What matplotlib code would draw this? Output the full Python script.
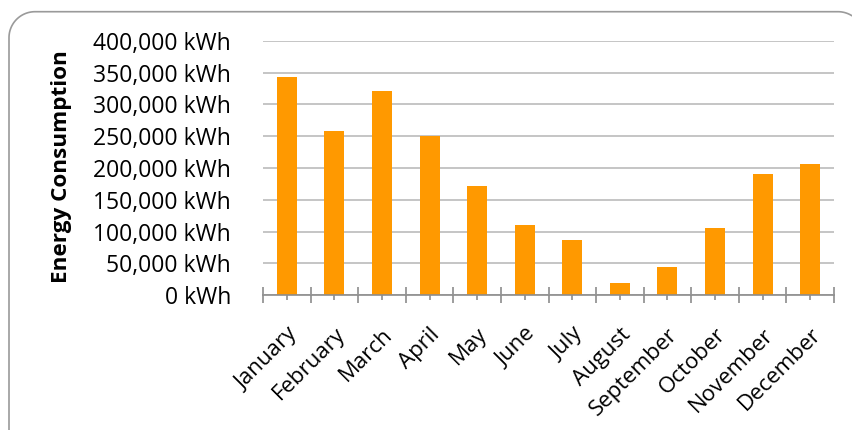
import matplotlib
matplotlib.use("Agg")
import matplotlib.pyplot as plt
from matplotlib.lines import Line2D
from matplotlib.ticker import FuncFormatter, MultipleLocator, FixedLocator
import numpy as np

months = ["January", "February", "March", "April", "May", "June", "July",
          "August", "September", "October", "November", "December"]
consumption = [343000, 258000, 321000, 250000, 172000, 110000, 87000,
               19000, 44500, 106000, 191000, 206000]
y_label = "Energy Consumption"

plt.rcParams['font.family'] = ['Open Sans', 'DejaVu Sans']

W, H = 852, 430
fig = plt.figure(figsize=(W / 100, H / 100), dpi=100)
fig.patch.set_facecolor('white')

# rounded chart-area border, kept strictly inside the image
r = 26.0
top, left = 11.7, 9.0
cl = (left + r, top + r)
cr = (838.0, top + r)
t1 = np.linspace(np.pi, 1.5 * np.pi, 30)
t_end = 2.0 * np.pi - np.arccos((W - 0.5 - cr[0]) / r)
t2 = np.linspace(1.5 * np.pi, t_end, 20)
px = np.concatenate([[left], cl[0] + r * np.cos(t1), cr[0] + r * np.cos(t2)])
py = np.concatenate([[H - 0.5], cl[1] + r * np.sin(t1), cr[1] + r * np.sin(t2)])
fig.add_artist(Line2D(px / W, 1 - py / H, transform=fig.transFigure,
                      color='#9a9a9a', linewidth=1.2))

ax = fig.add_axes([263/W, 1 - 295.3/H, (834-263)/W, (295.3-40.7)/H])
x = np.arange(len(months))
ax.bar(x, consumption, width=0.42, color='#FF9900', zorder=3)

ax.set_xlim(-0.5, len(months) - 0.5)
ax.set_ylim(0, 400000)
ax.yaxis.set_major_locator(MultipleLocator(50000))
ax.yaxis.set_major_formatter(FuncFormatter(lambda v, p: f"{int(v):,} kWh"))
ax.grid(axis='y', color='#c0c0c0', linewidth=1.3, zorder=0)
ax.set_axisbelow(True)

for s in ['top', 'right', 'left']:
    ax.spines[s].set_visible(False)
ax.spines['bottom'].set_color('#8c8c8c')
ax.spines['bottom'].set_linewidth(1.2)
ax.spines['bottom'].set_zorder(4)

ax.tick_params(axis='y', length=0, labelsize=16.5, labelcolor='black', pad=23)
ax.xaxis.set_major_locator(FixedLocator(np.arange(-0.5, len(months), 1.0)))
ax.xaxis.set_major_formatter(FuncFormatter(lambda v, p: ""))
ax.set_xticks(x, months, minor=True)
ax.tick_params(axis='x', which='major', direction='inout', length=11.5,
               width=1.2, color='#8c8c8c')
ax.tick_params(axis='x', which='minor', direction='inout', length=7.2,
               width=1.2, color='#8c8c8c', labelsize=16, pad=17)
for lab in ax.get_xticklabels(minor=True):
    lab.set_rotation(45)
    lab.set_ha('right')
    lab.set_va('top')
    lab.set_rotation_mode('anchor')

fig.text(61/W, 1 - 167/H, y_label, rotation=90, ha='center', va='center',
         fontsize=16.2, fontweight='bold')

fig.savefig("out.png", dpi=100, facecolor='white')
